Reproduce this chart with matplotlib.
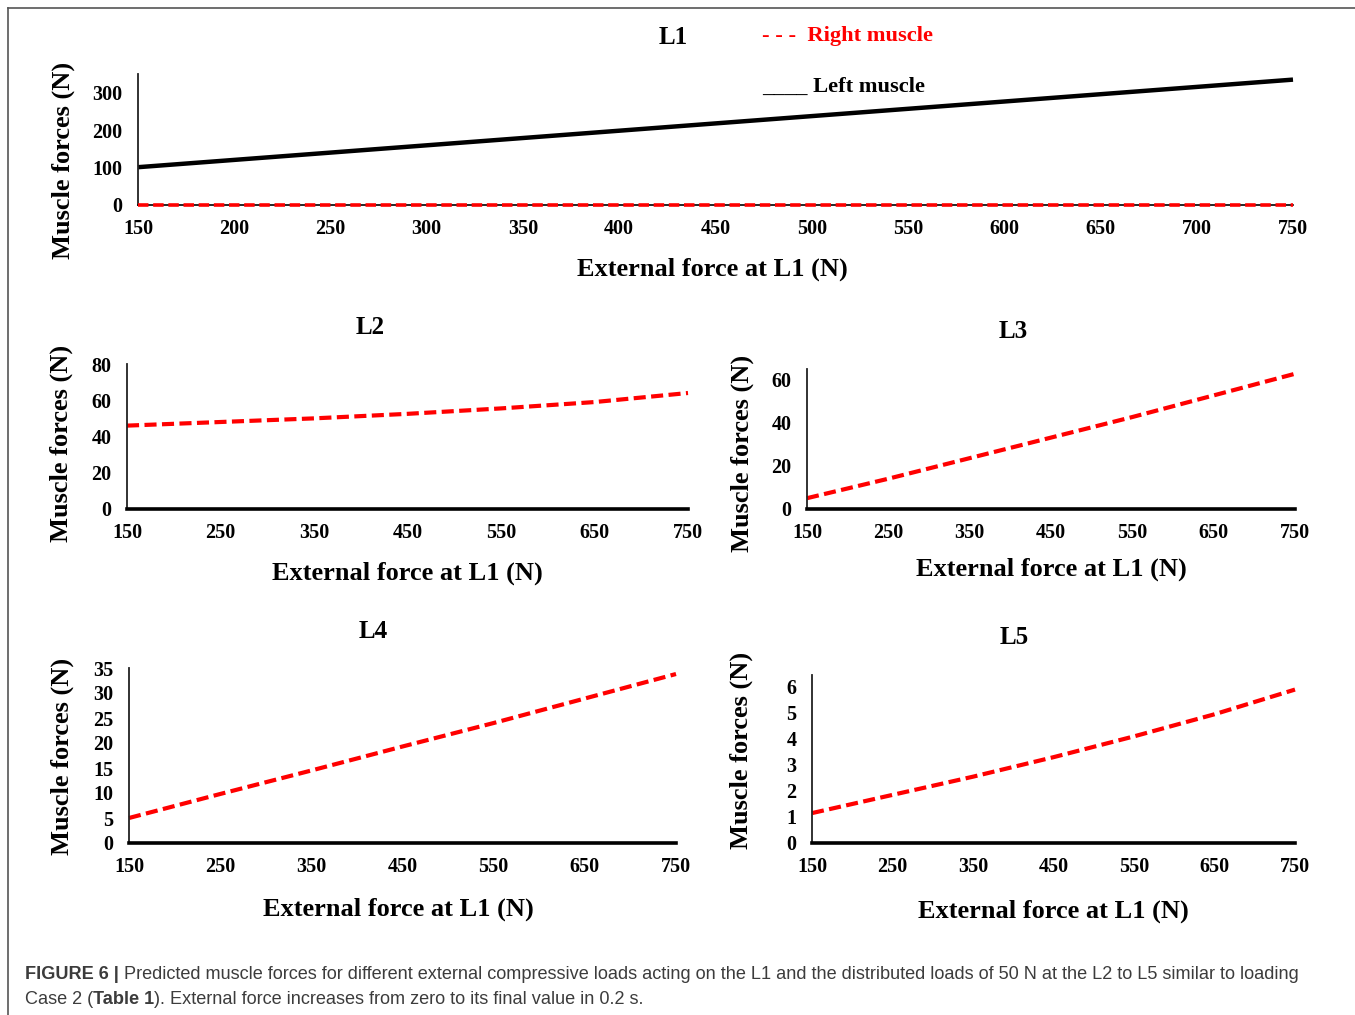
import matplotlib
matplotlib.use("Agg")
import matplotlib.pyplot as plt
from matplotlib.lines import Line2D

# ---- data ----
ext_force_l1 = [150, 200, 250, 300, 350, 400, 450, 500, 550, 600, 650, 700, 750]
l1_left = [101, 120.5, 140, 159.5, 179, 198.5, 218, 237.5, 257, 276.5, 296, 315.5, 335]
l1_right = [0, 0, 0, 0, 0, 0, 0, 0, 0, 0, 0, 0, 0]

ext_force = [150, 250, 350, 450, 550, 650, 750]
l2_right = [46, 48, 50, 52.5, 55.5, 59, 64]
l3_right = [5, 14, 23.5, 33, 42.5, 52.5, 62.5]
l4_right = [5, 9.8, 14.5, 19.3, 24, 28.9, 33.8]
l5_right = [1.15, 1.85, 2.55, 3.3, 4.1, 4.95, 5.9]

l1_xticks = [150, 200, 250, 300, 350, 400, 450, 500, 550, 600, 650, 700, 750]
l1_yticks = [0, 100, 200, 300]
small_xticks = [150, 250, 350, 450, 550, 650, 750]
l2_yticks = [0, 20, 40, 60, 80]
l3_yticks = [0, 20, 40, 60]
l4_yticks = [0, 5, 10, 15, 20, 25, 30, 35]
l5_yticks = [0, 1, 2, 3, 4, 5, 6]

W, H = 1355, 1015
fig = plt.figure(figsize=(W / 100, H / 100), dpi=100)
SERIF = "Liberation Serif"
RED = "#ff0000"
LAB = 19
TICK = 14.5
TITLE = 18

def px_axes(x0, x1, ytop, ybot):
    return fig.add_axes([x0 / W, 1 - ybot / H, (x1 - x0) / W, (ybot - ytop) / H])

def ftext(x, y, s, **kw):
    kw.setdefault("family", SERIF)
    kw.setdefault("weight", "bold")
    kw.setdefault("ha", "center")
    kw.setdefault("va", "center")
    return fig.text(x / W, 1 - y / H, s, **kw)

dash = (0, (2.9, 1.3))

def style(ax, xticks, yticks, ylim, thick_bottom=True):
    ax.set_xlim(150, 750)
    ax.set_ylim(*ylim)
    ax.set_xticks(xticks)
    ax.set_yticks(yticks)
    ax.tick_params(length=0, labelsize=TICK, pad=10)
    ax.tick_params(axis="y", pad=11)
    for lab in ax.get_xticklabels() + ax.get_yticklabels():
        lab.set_family(SERIF)
        lab.set_weight("bold")
    for s in ("top", "right"):
        ax.spines[s].set_visible(False)
    ax.spines["left"].set_linewidth(1.3)
    ax.spines["left"].set_color("#222222")
    ax.spines["bottom"].set_linewidth(2.6 if thick_bottom else 1.2)
    ax.spines["bottom"].set_color("black")
    ax.patch.set_alpha(0)

# ---- L1 ----
ax1 = px_axes(138, 1293, 74, 205)
ax1.plot(ext_force_l1, l1_left, color="black", lw=3.2, solid_capstyle="butt", clip_on=False)
ax1.plot(ext_force_l1, l1_right, color=RED, lw=2.6, linestyle=dash, clip_on=False, zorder=5)
style(ax1, l1_xticks, l1_yticks, (0, 350), thick_bottom=False)
ftext(673, 37, "L1", size=TITLE)
ftext(712, 269, "External force at L1 (N)", size=LAB)
ftext(63, 160, "Muscle forces (N)", size=LAB, rotation=90)
ftext(762, 36, "- - -  Right muscle", size=16.2, color=RED, ha="left")
ftext(762, 87, "____ Left muscle", size=16.2, color="black", ha="left")

# ---- L2 ----
ax2 = px_axes(127, 688, 364, 509)
ax2.plot(ext_force, l2_right, color=RED, lw=3, linestyle=dash, clip_on=False)
style(ax2, small_xticks, l2_yticks, (0, 80))
ftext(370, 327, "L2", size=TITLE)
ftext(407, 573, "External force at L1 (N)", size=LAB)
ftext(61, 443, "Muscle forces (N)", size=LAB, rotation=90)

# ---- L3 ----
ax3 = px_axes(807, 1295, 369, 509)
ax3.plot(ext_force, l3_right, color=RED, lw=3, linestyle=dash, clip_on=False)
style(ax3, small_xticks, l3_yticks, (0, 64.7))
ftext(1013, 331, "L3", size=TITLE)
ftext(1051, 569, "External force at L1 (N)", size=LAB)
ftext(742, 453, "Muscle forces (N)", size=LAB, rotation=90)

# ---- L4 ----
ax4 = px_axes(129, 676, 668, 843)
ax4.plot(ext_force, l4_right, color=RED, lw=3, linestyle=dash, clip_on=False)
style(ax4, small_xticks, l4_yticks, (0, 35))
ftext(373, 631, "L4", size=TITLE)
ftext(398, 909, "External force at L1 (N)", size=LAB)
ftext(62, 756, "Muscle forces (N)", size=LAB, rotation=90)

# ---- L5 ----
ax5 = px_axes(812, 1295, 675, 843)
ax5.plot(ext_force, l5_right, color=RED, lw=3, linestyle=dash, clip_on=False)
style(ax5, small_xticks, l5_yticks, (0, 6.46))
ftext(1014, 637, "L5", size=TITLE)
ftext(1053, 911, "External force at L1 (N)", size=LAB)
ftext(741, 750, "Muscle forces (N)", size=LAB, rotation=90)

# ---- border (top and left) ----
fig.add_artist(Line2D([8 / W, 1], [1 - 8 / H, 1 - 8 / H], color="#555555", lw=1.2))
fig.add_artist(Line2D([8 / W, 8 / W], [0, 1 - 8 / H], color="#555555", lw=1.2))

# ---- caption ----
CAP = "#3c3c3c"
renderer = fig.canvas.get_renderer()

def caption_line(x, y, pieces, size=13.1):
    for s, bold in pieces:
        t = fig.text(x / W, 1 - y / H, s, family="Liberation Sans", size=size,
                     weight="bold" if bold else "normal", color=CAP,
                     ha="left", va="baseline")
        bb = t.get_window_extent(renderer)
        x += bb.width

caption_line(25, 979, [("FIGURE 6 |", True),
                       (" Predicted muscle forces for different external compressive loads acting on the L1 and the distributed loads of 50 N at the L2 to L5 similar to loading", False)])
caption_line(25, 1004, [("Case 2 (", False), ("Table 1", True),
                        ("). External force increases from zero to its final value in 0.2 s.", False)])

fig.savefig("out.png", dpi=100)
